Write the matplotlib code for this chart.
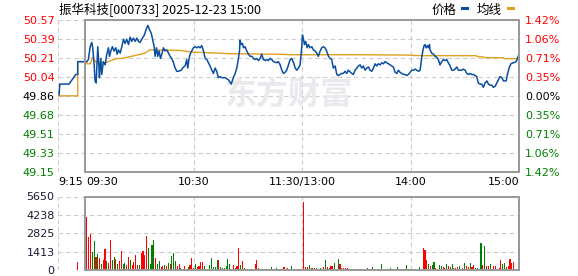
import matplotlib
matplotlib.use('Agg')
import matplotlib.pyplot as plt
import matplotlib.transforms as mtransforms
from matplotlib.patches import Rectangle
from matplotlib.lines import Line2D

plt.rcParams['font.family'] = ['DejaVu Sans', 'Noto Sans CJK SC']
CJK = ['Noto Sans CJK SC', 'DejaVu Sans']

# 昨收价
pre_close = 49.86
# 时间轴: 分钟, 0 = 09:30, 120 = 11:30/13:00, 240 = 15:00, 负数 = 集合竞价
# 价格刻度 / 涨跌幅刻度 (从下到上)
price_ticks = ['49.15', '49.33', '49.51', '49.68', '49.86', '50.04', '50.21', '50.39', '50.57']
pct_ticks = ['1.42%', '1.06%', '0.71%', '0.35%', '0.00%', '0.35%', '0.71%', '1.06%', '1.42%']
vol_ticks = [0, 1413, 2825, 4238, 5650]
vol_tick_labels = ['0', '1413', '2825', '4238', '5650']
time_labels = ['9:15', '09:30', '10:30', '11:30/13:00', '14:00', '15:00']
time_pos = [-15, 0, 60, 120, 180, 240]

# 分时价格 (分段读取)
t_pre = [-14.4, -14.0, -8.9, -5.2, -4.1, -4.1]
p_pre = [49.87, 49.97, 49.97, 50.06, 50.06, 50.18]

t_a = [0.9, 1.8, 2.8, 3.7, 4.2, 5.0, 5.5, 6.1, 6.6, 7.0,
       7.6, 7.9, 8.7, 9.2, 10.1, 11.1, 12.0, 12.9, 13.5, 14.2,
       15.1, 16.0, 17.0, 17.7, 18.4, 19.4, 20.3, 21.2, 22.1, 23.0,
       24.0, 24.9, 25.8, 26.7, 27.7, 28.6, 29.5, 30.4, 31.7, 32.8,
       33.7, 34.7, 35.6, 36.5, 37.2, 38.2, 38.7, 39.5, 40.2, 40.9,
       41.7, 42.4, 43.3, 44.2, 45.2, 46.1, 47.0, 47.9, 48.9, 49.8,
       50.7]
p_a = [50.18, 50.20, 50.32, 50.36, 50.31, 50.15, 50.00, 49.98, 50.18, 50.32,
       50.15, 50.03, 50.21, 50.06, 50.18, 50.15, 50.25, 50.31, 50.23, 50.28,
       50.32, 50.28, 50.31, 50.25, 50.29, 50.26, 50.32, 50.39, 50.35, 50.39,
       50.34, 50.41, 50.37, 50.40, 50.37, 50.40, 50.37, 50.36, 50.40, 50.43,
       50.48, 50.52, 50.48, 50.45, 50.40, 50.32, 50.23, 50.31, 50.23, 50.28,
       50.21, 50.25, 50.31, 50.28, 50.29, 50.26, 50.23, 50.21, 50.17, 50.12,
       50.09]

t_b = [51.6, 53.1, 54.4, 55.3, 56.2, 56.8, 57.5, 58.1, 59.0, 59.9,
       60.8, 61.8, 62.7, 63.6, 64.5, 65.5, 66.4, 67.3, 68.2, 69.1,
       70.1, 71.0, 71.9, 72.8, 73.7, 74.7, 75.6, 77.4, 79.3, 80.8,
       82.0, 83.0, 83.9, 84.8, 85.4, 85.7, 86.3, 87.0, 87.6, 88.5,
       89.4, 90.3, 91.3, 92.2, 93.1, 94.0, 94.9, 95.9, 96.8, 97.7,
       98.6, 99.6, 100.5, 101.4, 102.3, 103.2, 104.2, 106.0, 106.9, 107.9,
       108.8, 109.7, 110.6, 111.5, 112.5, 113.4, 114.3, 115.3, 116.2, 117.1,
       118.0, 118.9]
p_b = [50.09, 50.10, 50.13, 50.14, 50.20, 50.12, 50.21, 50.25, 50.28, 50.31,
       50.32, 50.31, 50.32, 50.31, 50.33, 50.28, 50.21, 50.20, 50.17, 50.14,
       50.10, 50.07, 50.12, 50.09, 50.03, 50.04, 50.03, 50.03, 50.01, 49.97,
       50.03, 50.07, 50.12, 50.21, 50.28, 50.38, 50.34, 50.35, 50.31, 50.32,
       50.28, 50.25, 50.23, 50.23, 50.21, 50.20, 50.21, 50.19, 50.21, 50.25,
       50.20, 50.19, 50.20, 50.19, 50.21, 50.20, 50.18, 50.17, 50.18, 50.15,
       50.10, 50.07, 50.08, 50.10, 50.15, 50.20, 50.21, 50.17, 50.12, 50.10,
       50.12, 50.15]

t_c = [119.8, 120.2, 120.8, 121.3, 122.0, 122.8, 123.5, 124.4, 125.4, 126.3,
       127.2, 128.1, 129.0, 130.0, 130.9, 131.8, 132.7, 133.6, 134.6, 135.5,
       136.4, 137.3, 138.3, 139.2, 140.1, 141.0, 141.9, 142.9, 143.8, 144.7,
       145.6, 147.5, 148.4, 149.3, 150.3, 151.2, 152.1, 153.0, 153.9, 154.9,
       155.8, 156.7, 157.6, 158.6, 159.5, 160.4, 161.3, 162.2, 163.2, 164.1,
       165.0, 165.9, 166.9, 167.8, 168.7, 169.6, 170.5, 171.5, 172.4, 173.3,
       174.2, 175.2, 176.1, 177.0, 177.9, 178.8, 179.8, 180.7, 181.6, 182.5,
       183.5, 184.4, 185.3]
p_c = [50.31, 50.43, 50.39, 50.34, 50.37, 50.31, 50.34, 50.31, 50.32, 50.29,
       50.28, 50.26, 50.23, 50.28, 50.31, 50.32, 50.31, 50.28, 50.23, 50.21,
       50.20, 50.12, 50.14, 50.06, 50.05, 50.06, 50.07, 50.07, 50.09, 50.07,
       50.10, 50.07, 50.06, 50.10, 50.12, 50.14, 50.15, 50.12, 50.14, 50.10,
       50.12, 50.13, 50.10, 50.09, 50.12, 50.16, 50.14, 50.16, 50.15, 50.17,
       50.16, 50.18, 50.17, 50.16, 50.15, 50.14, 50.13, 50.08, 50.07, 50.10,
       50.08, 50.07, 50.06, 50.06, 50.05, 50.06, 50.08, 50.10, 50.10, 50.11,
       50.10, 50.09, 50.10]

t_d = [186.3, 186.9, 187.5, 188.1, 188.6, 189.4, 189.9, 190.5, 190.8, 191.7,
       192.7, 193.6, 194.5, 195.4, 196.3, 197.3, 198.2, 199.1, 200.0, 200.9,
       201.9, 202.8, 203.7, 204.6, 205.6, 206.5, 207.4, 208.3, 209.2, 210.2,
       211.1, 212.0, 212.9, 213.9, 214.8, 215.7, 216.6, 217.5, 218.5, 219.4,
       220.3, 221.2, 222.2, 223.1, 224.0, 224.9, 225.8, 226.8, 227.7, 228.6,
       229.5, 230.5, 231.4, 232.9, 233.6, 234.5, 235.5, 236.9, 238.4, 239.1,
       240.0]
p_d = [50.23, 50.29, 50.33, 50.34, 50.31, 50.33, 50.31, 50.34, 50.29, 50.26,
       50.25, 50.23, 50.22, 50.20, 50.15, 50.18, 50.20, 50.19, 50.20, 50.17,
       50.14, 50.10, 50.10, 50.11, 50.13, 50.10, 50.10, 50.10, 50.11, 50.10,
       50.07, 50.06, 50.07, 50.06, 50.06, 50.05, 50.04, 49.98, 49.97, 49.97,
       49.94, 49.98, 50.00, 49.97, 49.96, 49.96, 49.94, 49.95, 49.98, 50.01,
       50.04, 50.03, 50.00, 50.00, 50.06, 50.12, 50.16, 50.17, 50.18, 50.21,
       50.25]

# 均价线
avg_t = [-14.4, -4.1, -4.1, 0.9, 1.0, 2.8, 4.1, 6.3, 11.1, 17.5,
         20.3, 29.5, 33.2, 35.6, 52.5, 59.0, 73.7, 79.3, 105.0, 114.3,
         146.0, 178.0, 185.0, 216.6, 217.0, 220.0, 221.0, 231.0, 232.0, 240.0]
avg_p = [49.86, 49.86, 50.18, 50.18, 50.16, 50.16, 50.22, 50.17, 50.17, 50.21,
         50.21, 50.245, 50.26, 50.29, 50.285, 50.27, 50.26, 50.255, 50.25, 50.245,
         50.245, 50.242, 50.236, 50.236, 50.226, 50.226, 50.217, 50.217, 50.208, 50.208]

# 成交量 (每分钟, 上午 1-120, 下午 121-240), r=涨 g=跌
pre_vol_t = -4
pre_vol = 640
vol_am = [4045, 2509, 2739, 1357, 2202, 973, 1203, 922, 435, 742,
          1587, 666, 538, 2304, 768, 973, 845, 435, 666, 1434,
          435, 512, 358, 973, 768, 358, 589, 1126, 358, 358,
          1280, 1434, 1126, 2586, 1664, 435, 1894, 2278, 896, 435,
          666, 205, 307, 358, 307, 512, 435, 1050, 1280, 666,
          307, 435, 154, 102, 282, 102, 205, 358, 896, 154,
          435, 205, 307, 589, 589, 282, 102, 102, 358, 896,
          205, 205, 742, 742, 205, 128, 154, 282, 819, 435,
          102, 358, 128, 282, 1664, 358, 666, 128, 77, 77,
          77, 77, 77, 435, 742, 154, 77, 77, 77, 77,
          77, 77, 230, 77, 77, 154, 77, 77, 77, 205,
          77, 128, 77, 282, 77, 77, 77, 77, 77, 77]
dir_am = ("rrrggrgrgr" "rgrrggrgrr" "ggrrgrrrrg" "rrrrggggrg"
          "grrgrgrggg" "rrrgrrgrrr" "grrrrgrggg" "gggrgggggg"
          "grrrrgrggr" "rggrrggggr" "rggrgggrgr" "rrgggggrrr")
vol_pm = [5197, 230, 205, 358, 154, 154, 154, 154, 77, 154,
          77, 205, 742, 230, 154, 282, 282, 512, 77, 819,
          435, 128, 154, 154, 154, 77, 77, 77, 77, 77,
          77, 77, 77, 77, 77, 154, 77, 77, 205, 77,
          77, 77, 77, 435, 77, 77, 77, 77, 154, 77,
          77, 77, 230, 77, 77, 77, 77, 358, 77, 77,
          77, 77, 77, 77, 205, 77, 1664, 1510, 742, 435,
          282, 358, 589, 154, 77, 358, 282, 230, 154, 435,
          282, 230, 435, 128, 154, 230, 282, 77, 154, 512,
          282, 205, 512, 230, 358, 154, 128, 77, 2048, 358,
          1818, 282, 282, 435, 77, 282, 282, 77, 128, 742,
          435, 512, 205, 282, 819, 538, 589, 40, 77, 2048]
dir_pm = ("rrrgrrggrg" "rrgrrrrgrg" "rrrrrrggrg" "rgrgrgrrgr"
          "rrrgrrrrgr" "grgrgrrgrr" "rrrrgrrrrg" "rggrrggrrg"
          "rggrrrgrrg" "rrgrrggrgr" "grrggrrgrr" "ggrrrrrggr")

price_t = t_pre + t_a + t_b + t_c + t_d
price_p = p_pre + p_a + p_b + p_c + p_d
vol = vol_am + vol_pm
vol_dir = dir_am + dir_pm
vol_t = list(range(1, len(vol) + 1))

RED = '#ff0000'
GREEN = '#008000'
GRID = '#cccccc'
BORDER = '#999999'

W, H = 578, 276
fig = plt.figure(figsize=(W / 100, H / 100), dpi=100)


def px_axes(l, t, r, b):
    return fig.add_axes([l / W, 1 - b / H, (r - l) / W, (b - t) / H])


ax = px_axes(58, 20, 519, 171.7)
axv = px_axes(58, 196.5, 519, 270)

lo, hi = float(price_ticks[0]), float(price_ticks[-1])
n = len(price_ticks)
tick_vals = [lo + (hi - lo) * i / (n - 1) for i in range(n)]

for a in (ax, axv):
    a.set_xlim(-15, 240)
    for s in a.spines.values():
        s.set_visible(False)
    a.set_xticks([])
    for xv in (-15, 60, 120, 180):
        a.axvline(xv, color=GRID, lw=0.8, ls=(0, (4, 3)), zorder=0)

ax.set_ylim(lo, hi)
for yv in tick_vals:
    ax.axhline(yv, color=GRID, lw=0.8, ls=(0, (4, 3)), zorder=0)
ax.add_patch(Rectangle((0, lo), 240, hi - lo, fill=False, ec=BORDER, lw=1.4, zorder=5, clip_on=False))

# 水印
ax.text(0.5, 0.5, '东方财富', transform=ax.transAxes, ha='center', va='center',
        fontsize=23, fontweight='bold', color='#e9e9ee', family=CJK, zorder=0)

ax.plot(avg_t, avg_p, color='#e0a020', lw=1.0, zorder=3)
ax.plot(price_t, price_p, color='#0b4ea2', lw=1.1, zorder=4)

label_colors = []
for v in tick_vals:
    if abs(v - pre_close) < 1e-6:
        label_colors.append('#000000')
    elif v > pre_close:
        label_colors.append(RED)
    else:
        label_colors.append(GREEN)

ax.set_yticks(tick_vals, price_ticks)
ax.tick_params(axis='y', length=0, pad=2.5, labelsize=8)
for lbl, c in zip(ax.get_yticklabels(), label_colors):
    lbl.set_color(c)

axr = ax.twinx()
axr.set_ylim(lo, hi)
for s in axr.spines.values():
    s.set_visible(False)
axr.set_yticks(tick_vals, pct_ticks)
axr.tick_params(axis='y', length=0, pad=4.5, labelsize=8)
for lbl, c in zip(axr.get_yticklabels(), label_colors):
    lbl.set_color(c)

trans = mtransforms.blended_transform_factory(ax.transData, ax.transAxes)
aligns = ['left', 'left', 'center', 'center', 'center', 'right']
offs = [0, 0.8, 0, 0, 0, 0]
for lab, xp, ha, o in zip(time_labels, time_pos, aligns, offs):
    ax.text(xp + o, -0.065, lab, transform=trans, ha=ha, va='center', fontsize=8)

# 成交量
axv.set_ylim(0, vol_ticks[-1])
for yv in vol_ticks:
    axv.axhline(yv, color=GRID, lw=0.8, ls=(0, (4, 3)), zorder=0)
axv.add_patch(Rectangle((0, 0), 240, vol_ticks[-1], fill=False, ec=BORDER, lw=1.4, zorder=5, clip_on=False))
colors = [RED if d == 'r' else GREEN for d in vol_dir]
axv.bar(vol_t, vol, width=0.6, color=colors, zorder=3, clip_on=False, antialiased=False)
axv.bar([pre_vol_t], [pre_vol], width=0.6, color=RED, zorder=3, antialiased=False)
axv.set_yticks(vol_ticks, vol_tick_labels)
axv.tick_params(axis='y', length=0, pad=2.5, labelsize=8, labelcolor='#1a1a33')

# 标题和图例
fig.text(59 / W, 1 - 10 / H, '振华科技[000733] 2025-12-23 15:00', ha='left', va='center',
         fontsize=9, family=CJK)
fig.text(432 / W, 1 - 10 / H, '价格', ha='left', va='center', fontsize=9, family=CJK)
fig.text(477 / W, 1 - 10 / H, '均线', ha='left', va='center', fontsize=9, family=CJK)
fig.add_artist(Line2D([462 / W, 467 / W], [1 - 8 / H, 1 - 8 / H], color='#0b4ea2', lw=2.2))
fig.add_artist(Line2D([508 / W, 513 / W], [1 - 8 / H, 1 - 8 / H], color='#e0a020', lw=2.2))

fig.savefig('out.png', dpi=100, facecolor='white')
